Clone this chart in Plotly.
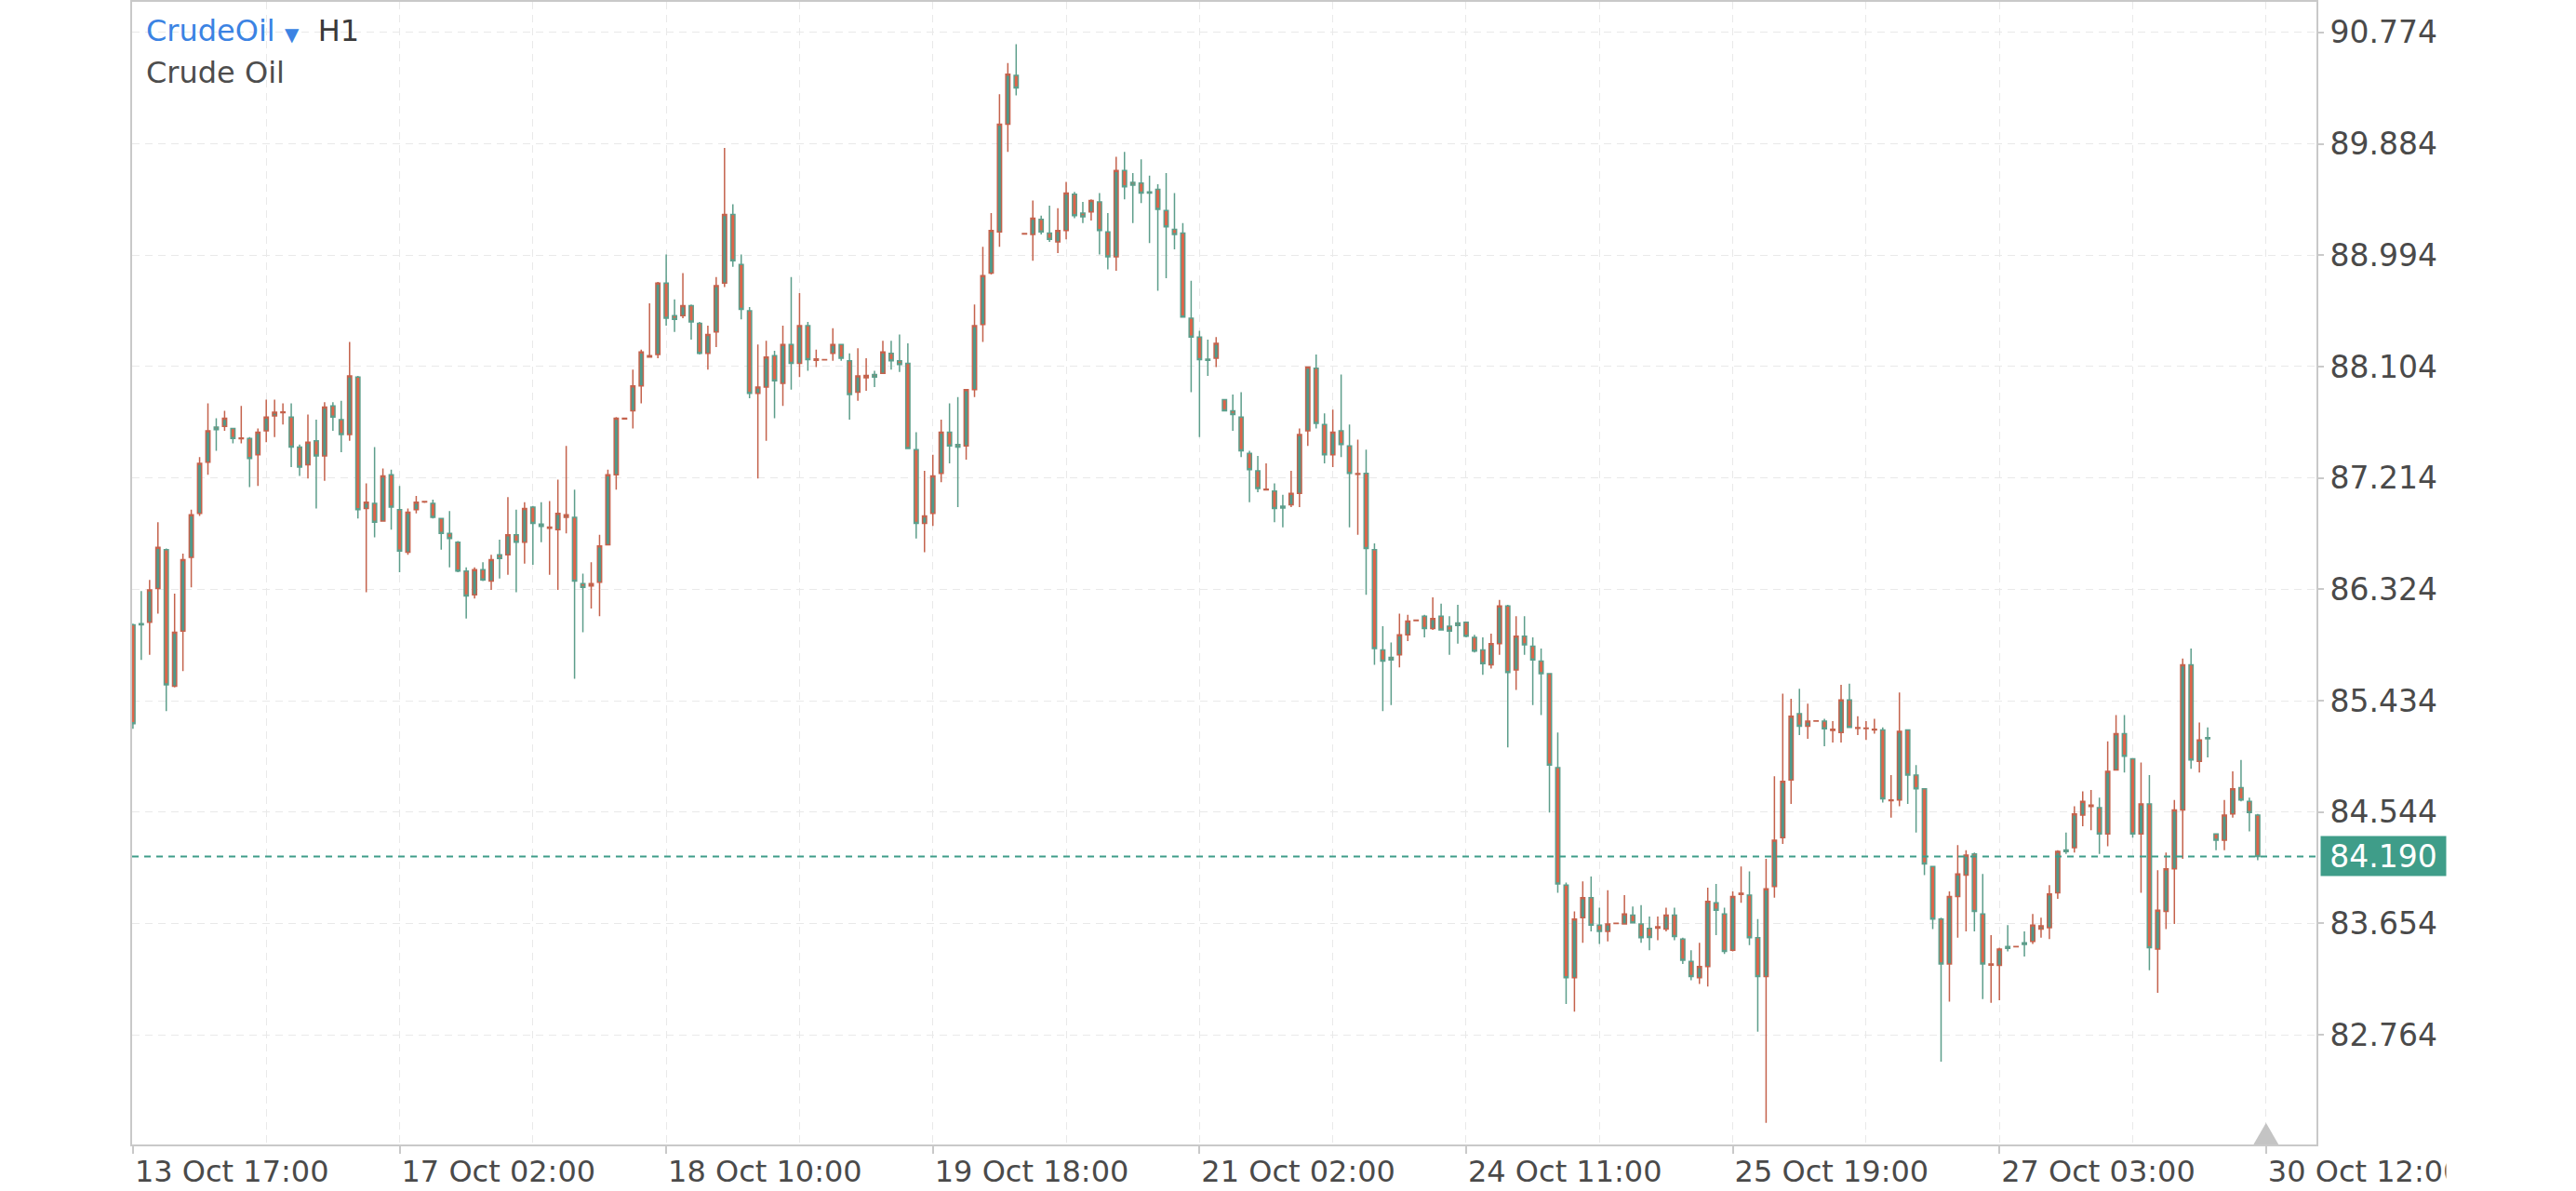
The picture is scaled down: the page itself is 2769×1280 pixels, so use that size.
import plotly.graph_objects as go

# H1 candles, Crude Oil
open_ = [
    86.04, 86.05, 86.06, 86.33, 86.64, 85.55, 85.99, 86.58, 86.93, 87.34,
    87.62, 87.625, 87.61, 87.528, 87.53, 87.40, 87.59, 87.71, 87.735, 87.70,
    87.46, 87.32, 87.51, 87.39, 87.79, 87.68, 87.56, 88.02, 86.97, 87.01,
    86.87, 87.24, 86.96, 86.62, 86.96, 87.022, 87.01, 86.89, 86.77, 86.70,
    86.47, 86.28, 86.48, 86.39, 86.60, 86.60, 86.76, 86.70, 86.98, 86.845,
    86.811, 86.80, 86.90, 86.90, 86.37, 86.35, 86.38, 86.68, 87.24, 87.686,
    87.75, 87.95, 88.18, 88.20, 88.77, 88.51, 88.51, 88.59, 88.45, 88.21,
    88.38, 88.77, 89.32, 88.92, 88.55, 87.89, 87.94, 88.19, 87.97, 88.28,
    88.13, 88.43, 88.154, 88.157, 88.21, 88.28, 88.15, 87.90, 88.015, 88.04,
    88.05, 88.21, 88.15, 88.13, 87.44, 86.85, 86.93, 87.25, 87.58, 87.48,
    87.47, 87.92, 88.44, 88.85, 89.18, 90.04, 90.43, 89.163, 89.16, 89.28,
    89.17, 89.10, 89.19, 89.48, 89.33, 89.34, 89.42, 89.18, 88.98, 89.67,
    89.575, 89.57, 89.50, 89.52, 89.35, 89.20, 89.17, 88.49, 88.34, 88.163,
    88.17, 87.84, 87.75, 87.70, 87.41, 87.27, 87.119, 87.11, 86.988, 87.00,
    87.09, 87.59, 88.09, 87.64, 87.40, 87.59, 87.47, 87.243, 87.25, 86.64,
    85.84, 85.78, 85.80, 85.96, 86.074, 86.11, 86.01, 86.11, 86.03, 86.056,
    86.06, 85.94, 85.84, 85.72, 85.89, 86.19, 85.68, 85.95, 85.87, 85.75,
    85.65, 84.90, 83.96, 83.22, 83.70, 83.86, 83.64, 83.59, 83.654, 83.65,
    83.72, 83.65, 83.615, 83.616, 83.61, 83.72, 83.53, 83.35, 83.22, 83.31,
    83.82, 83.73, 83.44, 83.886, 83.88, 83.54, 83.23, 83.95, 84.34, 84.80,
    85.33, 85.23, 85.270, 85.27, 85.196, 85.18, 85.44, 85.214, 85.211, 85.201,
    85.20, 84.636, 84.64, 85.20, 84.84, 84.73, 84.11, 83.69, 83.33, 83.87,
    84.04, 84.21, 83.73, 83.321, 83.32, 83.469, 83.468, 83.50, 83.51, 83.61,
    83.62, 83.90, 84.242, 84.26, 84.52, 84.589, 84.58, 84.37, 84.88, 85.17,
    84.97, 84.37, 84.61, 83.45, 83.75, 84.09, 84.56, 85.72, 84.95, 85.139,
    84.37, 84.32, 84.53, 84.74, 84.63, 84.52,
]
high = [
    86.05, 86.31, 86.40, 86.86, 86.65, 86.29, 86.61, 86.96, 87.38, 87.81,
    87.69, 87.75, 87.61, 87.79, 87.54, 87.61, 87.84, 87.84, 87.81, 87.81,
    87.48, 87.72, 87.68, 87.82, 87.82, 87.83, 88.30, 88.03, 87.17, 87.46,
    87.29, 87.28, 87.15, 86.97, 87.07, 87.03, 87.04, 86.89, 86.95, 86.71,
    86.50, 86.50, 86.54, 86.60, 86.72, 87.06, 86.96, 87.02, 86.99, 87.02,
    87.03, 87.20, 87.47, 87.12, 86.45, 86.54, 86.76, 87.28, 87.70, 87.69,
    88.08, 88.24, 88.61, 88.78, 89.00, 88.64, 88.85, 88.60, 88.46, 88.43,
    88.82, 89.85, 89.40, 89.00, 88.58, 88.28, 88.31, 88.23, 88.43, 88.82,
    88.69, 88.46, 88.24, 88.16, 88.41, 88.28, 88.21, 88.25, 88.17, 88.07,
    88.31, 88.31, 88.36, 88.29, 87.58, 87.27, 87.40, 87.68, 87.81, 87.86,
    87.92, 88.60, 89.06, 89.33, 90.28, 90.53, 90.68, 89.17, 89.43, 89.31,
    89.39, 89.37, 89.58, 89.50, 89.42, 89.44, 89.49, 89.33, 89.78, 89.82,
    89.65, 89.76, 89.63, 89.56, 89.65, 89.49, 89.25, 88.79, 88.39, 88.32,
    88.34, 87.84, 87.88, 87.90, 87.43, 87.39, 87.33, 87.17, 87.08, 87.27,
    87.61, 88.10, 88.20, 87.73, 87.76, 88.04, 87.64, 87.52, 87.44, 86.69,
    86.03, 85.90, 86.13, 86.12, 86.08, 86.12, 86.26, 86.21, 86.11, 86.20,
    86.06, 85.96, 85.94, 85.97, 86.24, 86.20, 86.11, 86.11, 85.94, 85.85,
    85.65, 85.18, 83.98, 83.75, 83.99, 84.03, 83.78, 83.92, 83.66, 83.88,
    83.79, 83.80, 83.71, 83.71, 83.78, 83.78, 83.54, 83.44, 83.50, 83.94,
    83.97, 83.78, 83.91, 84.11, 84.07, 83.69, 84.17, 84.83, 85.49, 85.45,
    85.53, 85.41, 85.275, 85.29, 85.27, 85.56, 85.57, 85.31, 85.27, 85.29,
    85.22, 84.84, 85.50, 85.20, 84.92, 84.73, 84.11, 83.70, 83.91, 84.28,
    84.24, 84.22, 84.05, 83.56, 83.46, 83.64, 83.472, 83.59, 83.73, 83.70,
    83.96, 84.24, 84.38, 84.59, 84.71, 84.72, 84.66, 85.11, 85.32, 85.32,
    84.97, 84.94, 84.84, 84.08, 84.22, 84.64, 85.77, 85.85, 85.26, 85.22,
    84.37, 84.64, 84.87, 84.96, 84.66, 84.53,
]
low = [
    85.21, 85.76, 85.80, 86.13, 85.35, 85.54, 85.67, 86.34, 86.91, 87.24,
    87.43, 87.59, 87.49, 87.49, 87.14, 87.15, 87.50, 87.54, 87.64, 87.30,
    87.23, 87.21, 86.97, 87.19, 87.59, 87.42, 87.51, 86.89, 86.30, 86.74,
    86.87, 86.80, 86.46, 86.60, 86.93, 87.015, 86.89, 86.64, 86.50, 86.46,
    86.09, 86.25, 86.39, 86.32, 86.41, 86.44, 86.30, 86.53, 86.52, 86.70,
    86.44, 86.32, 86.77, 85.61, 85.98, 86.17, 86.11, 86.68, 87.12, 87.685,
    87.61, 87.81, 88.18, 88.17, 88.43, 88.38, 88.49, 88.32, 88.20, 88.08,
    88.26, 88.74, 88.90, 88.48, 87.85, 87.21, 87.51, 87.69, 87.79, 87.92,
    88.02, 88.07, 88.10, 88.155, 88.15, 88.15, 87.68, 87.83, 87.91, 87.94,
    88.05, 88.08, 88.06, 87.45, 86.73, 86.62, 86.83, 87.18, 87.33, 86.98,
    87.36, 87.86, 88.30, 88.84, 89.06, 89.82, 90.27, 89.16, 88.95, 89.16,
    89.10, 89.01, 89.12, 89.29, 89.25, 89.27, 89.00, 88.88, 88.87, 89.44,
    89.25, 89.41, 89.09, 88.71, 88.81, 89.04, 88.50, 87.90, 87.54, 88.03,
    88.10, 87.75, 87.59, 87.38, 87.02, 87.10, 87.117, 86.86, 86.82, 86.98,
    86.98, 87.47, 87.61, 87.33, 87.30, 87.38, 86.82, 86.76, 86.28, 85.72,
    85.35, 85.40, 85.70, 85.91, 86.07, 85.94, 86.00, 86.00, 85.80, 85.89,
    85.94, 85.82, 85.64, 85.69, 85.80, 85.06, 85.52, 85.80, 85.40, 85.32,
    84.54, 83.90, 83.01, 82.95, 83.50, 83.59, 83.49, 83.51, 83.65, 83.648,
    83.656, 83.50, 83.44, 83.52, 83.59, 83.52, 83.33, 83.20, 83.17, 83.15,
    83.56, 83.41, 83.43, 83.82, 83.48, 82.79, 82.06, 83.86, 84.29, 84.61,
    85.16, 85.13, 85.266, 85.07, 85.10, 85.10, 85.22, 85.16, 85.12, 85.17,
    84.62, 84.50, 84.59, 84.61, 84.38, 84.04, 83.61, 82.55, 83.03, 83.54,
    83.59, 83.59, 83.05, 83.02, 83.04, 83.43, 83.466, 83.39, 83.49, 83.54,
    83.53, 83.85, 84.21, 84.22, 84.43, 84.40, 84.21, 84.27, 84.88, 84.86,
    84.34, 83.90, 83.28, 83.10, 83.61, 83.65, 84.17, 84.89, 84.86, 84.98,
    84.24, 84.24, 84.50, 84.63, 84.39, 84.16,
]
close = [
    85.25, 86.04, 86.32, 86.66, 85.56, 85.98, 86.56, 86.92, 87.33, 87.59,
    87.60, 87.69, 87.53, 87.533, 87.37, 87.58, 87.70, 87.74, 87.742, 87.46,
    87.30, 87.50, 87.39, 87.78, 87.70, 87.56, 88.03, 86.96, 87.02, 86.86,
    87.23, 86.98, 86.63, 86.94, 87.02, 87.026, 86.90, 86.77, 86.73, 86.47,
    86.27, 86.48, 86.40, 86.56, 86.57, 86.76, 86.70, 86.97, 86.85, 86.826,
    86.821, 86.93, 86.92, 86.39, 86.34, 86.37, 86.67, 87.24, 87.69, 87.690,
    87.95, 88.22, 88.19, 88.77, 88.49, 88.48, 88.59, 88.46, 88.21, 88.36,
    88.75, 89.32, 88.95, 88.56, 87.89, 87.94, 88.18, 87.99, 88.28, 88.13,
    88.43, 88.16, 88.164, 88.159, 88.28, 88.17, 87.88, 88.03, 88.032, 88.02,
    88.22, 88.15, 88.12, 87.45, 86.85, 86.91, 87.23, 87.58, 87.47, 87.46,
    87.92, 88.43, 88.83, 89.19, 90.04, 90.44, 90.33, 89.167, 89.29, 89.18,
    89.12, 89.19, 89.49, 89.31, 89.30, 89.43, 89.19, 88.98, 89.67, 89.54,
    89.553, 89.49, 89.49, 89.36, 89.22, 89.16, 88.50, 88.34, 88.16, 88.153,
    88.29, 87.75, 87.72, 87.43, 87.28, 87.13, 87.124, 86.97, 86.973, 87.09,
    87.56, 88.10, 87.65, 87.40, 87.58, 87.48, 87.25, 87.248, 86.65, 85.85,
    85.75, 85.76, 85.96, 86.07, 86.078, 86.01, 86.09, 86.00, 85.99, 86.034,
    85.95, 85.83, 85.73, 85.89, 86.19, 85.66, 85.95, 85.88, 85.76, 85.65,
    84.92, 83.97, 83.22, 83.69, 83.86, 83.64, 83.59, 83.65, 83.656, 83.73,
    83.66, 83.54, 83.543, 83.627, 83.72, 83.55, 83.36, 83.23, 83.31, 83.83,
    83.76, 83.43, 83.87, 83.896, 83.54, 83.23, 83.93, 84.32, 84.79, 85.31,
    85.23, 85.27, 85.272, 85.21, 85.206, 85.44, 85.22, 85.219, 85.216, 85.206,
    84.65, 84.641, 85.19, 84.84, 84.73, 84.13, 83.69, 83.33, 83.87, 84.05,
    84.20, 83.75, 83.33, 83.331, 83.45, 83.455, 83.470, 83.487, 83.64, 83.635,
    83.89, 84.23, 84.228, 84.53, 84.63, 84.599, 84.37, 84.87, 85.17, 84.99,
    84.37, 84.61, 83.46, 83.76, 84.09, 84.56, 85.72, 84.96, 85.12, 85.130,
    84.32, 84.52, 84.73, 84.64, 84.54, 84.19,
]

bars = list(range(len(close)))

tick_bars = [0, 32, 64, 96, 128, 160, 192, 224, 256]
tick_text = ["13 Oct 17:00", "17 Oct 02:00", "18 Oct 10:00", "19 Oct 18:00",
             "21 Oct 02:00", "24 Oct 11:00", "25 Oct 19:00", "27 Oct 03:00",
             "30 Oct 12:00"]
grid_bars = [16, 48, 80, 112, 144, 176, 208, 240]

price_ticks = [82.764, 83.654, 84.544, 85.434, 86.324, 87.214, 88.104,
               88.994, 89.884, 90.774]
last_price = 84.190

UP_FILL = "#4f9a8b"
DOWN_FILL = "#df6449"
TEAL = "#3f9d89"
GRID = "#e9e9e9"
AXIS = "#c9c9c9"
FONT = "DejaVu Sans"

fig = go.Figure(go.Candlestick(
    x=bars, open=open_, high=high, low=low, close=close,
    increasing=dict(fillcolor=UP_FILL, line=dict(color="#c4624c", width=1.5)),
    decreasing=dict(fillcolor=DOWN_FILL, line=dict(color="#5d9e8b", width=1.5)),
    whiskerwidth=0, showlegend=False,
))

# last price line + label
fig.add_shape(type="line", xref="paper", x0=0, x1=1, yref="y",
              y0=last_price, y1=last_price, layer="above",
              line=dict(color=TEAL, width=2, dash="7px,6px"))
fig.add_annotation(xref="paper", x=1, xanchor="left", xshift=4,
                   yref="y", y=last_price, yanchor="middle",
                   text=f"{last_price:.3f}", showarrow=False,
                   bgcolor=TEAL, width=134, height=42, borderpad=0,
                   font=dict(family=FONT, size=33, color="white"))

# small marker at the latest tick
lt = tick_bars[-1]
fig.add_shape(type="path", xref="x", yref="paper",
              path=f"M {lt - 1.5},0 L {lt + 1.5},0 L {lt},0.019 Z",
              fillcolor="#c4c4c4", line=dict(width=0), layer="above")

# the canvas ends right after the price label
fig.add_shape(type="rect", xref="paper", yref="paper",
              x0=1.0594, x1=1.2, y0=-0.1, y1=1.1,
              fillcolor="white", line=dict(width=0), layer="above")

# symbol header
fig.add_annotation(xref="paper", yref="paper", x=0.0055, y=0.975,
                   xanchor="left", yanchor="middle", showarrow=False,
                   text=('<span style="color:#3b83e3">CrudeOil</span> '
                         '<span style="color:#3b83e3;font-size:20px">▼</span>'
                         '  H1'),
                   font=dict(family=FONT, size=32, color="#3a3a3a"))
fig.add_annotation(xref="paper", yref="paper", x=0.0055, y=0.938,
                   xanchor="left", yanchor="middle", showarrow=False,
                   text="Crude Oil",
                   font=dict(family=FONT, size=32, color="#4d4d4d"))

fig.update_layout(
    width=2769, height=1280,
    margin=dict(l=142, r=279, t=2, b=50, autoexpand=False),
    paper_bgcolor="white", plot_bgcolor="white",
    showlegend=False,
    xaxis=dict(
        range=[-0.1, 262.05], rangeslider=dict(visible=False),
        automargin=False,
        tickmode="array", tickvals=tick_bars, ticktext=tick_text,
        ticklabelposition="outside right",
        ticks="outside", ticklen=8, tickcolor=AXIS, tickwidth=2,
        showline=True, linecolor=AXIS, linewidth=2, mirror=True,
        showgrid=True, gridcolor=GRID, griddash="8px,6px", gridwidth=1,
        minor=dict(tickvals=grid_bars, showgrid=True, gridcolor=GRID,
                   griddash="8px,6px", ticks=""),
        zeroline=False,
        tickfont=dict(family=FONT, size=32, color="#4a4a4a"),
    ),
    yaxis=dict(
        side="right", range=[81.888, 91.018],
        automargin=False,
        tickmode="array", tickvals=price_ticks,
        ticktext=[f"{v:.3f}" for v in price_ticks],
        ticks="outside", ticklen=6, tickcolor=AXIS, tickwidth=2,
        showline=True, linecolor=AXIS, linewidth=2, mirror=True,
        showgrid=True, gridcolor=GRID, griddash="8px,6px", gridwidth=1,
        zeroline=False,
        tickfont=dict(family=FONT, size=33, color="#4a4a4a"),
    ),
)

# page body has a default 8px margin; drop it so the chart sits at the corner
fig.write_html("out.html",
               config={"displayModeBar": False},
               post_script="document.body.style.margin='0';"
                           "document.body.style.overflow='hidden';")
